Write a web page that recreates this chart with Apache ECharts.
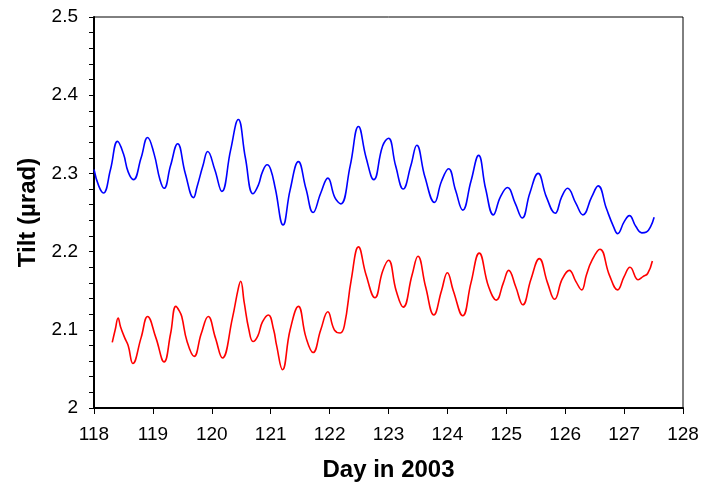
<!DOCTYPE html>
<html>
<head>
<meta charset="utf-8">
<script src="https://cdn.jsdelivr.net/npm/echarts@6/dist/echarts.min.js"></script>
<style>html,body{margin:0;padding:0;background:#fff}#c{width:713px;height:483px}</style>
</head>
<body>
<div id="c"></div>
<script>
var xTicks = [118,119,120,121,122,123,124,125,126,127,128];
var yTicks = [2,2.1,2.2,2.3,2.4,2.5];
var blueX = [118.00,118.08,118.16,118.28,118.40,118.50,118.58,118.67,118.80,118.91,119.02,119.12,119.19,119.30,119.42,119.55,119.69,119.75,119.85,119.93,120.05,120.17,120.32,120.45,120.57,120.70,120.79,120.86,120.94,121.00,121.08,121.21,121.33,121.47,121.60,121.72,121.85,121.97,122.09,122.19,122.35,122.49,122.62,122.75,122.90,123.00,123.12,123.25,123.38,123.48,123.62,123.78,123.90,124.02,124.14,124.26,124.40,124.53,124.65,124.78,124.90,125.02,125.15,125.27,125.40,125.54,125.68,125.83,125.94,126.04,126.18,126.30,126.45,126.56,126.70,126.82,126.89,127.00,127.09,127.20,127.30,127.38,127.45,127.51];
var blueY = [2.305,2.284,2.275,2.305,2.341,2.325,2.302,2.292,2.320,2.346,2.325,2.292,2.281,2.310,2.338,2.300,2.269,2.283,2.310,2.328,2.305,2.277,2.330,2.369,2.320,2.274,2.285,2.302,2.311,2.305,2.280,2.234,2.279,2.315,2.280,2.250,2.275,2.294,2.269,2.261,2.310,2.360,2.320,2.292,2.335,2.345,2.310,2.280,2.310,2.336,2.295,2.263,2.290,2.306,2.278,2.253,2.290,2.323,2.280,2.247,2.270,2.282,2.262,2.243,2.275,2.300,2.270,2.249,2.270,2.281,2.262,2.247,2.270,2.284,2.255,2.232,2.223,2.238,2.246,2.232,2.224,2.225,2.232,2.244];
var redX = [118.31,118.36,118.41,118.45,118.52,118.58,118.66,118.80,118.91,119.05,119.19,119.30,119.39,119.45,119.49,119.58,119.70,119.82,119.94,120.06,120.18,120.35,120.45,120.49,120.55,120.63,120.70,120.78,120.86,120.96,121.05,121.10,121.20,121.33,121.47,121.60,121.72,121.85,121.97,122.08,122.18,122.25,122.37,122.49,122.62,122.77,122.90,123.00,123.13,123.25,123.40,123.50,123.63,123.77,123.90,124.00,124.10,124.26,124.40,124.54,124.70,124.83,124.95,125.04,125.16,125.28,125.42,125.56,125.70,125.82,125.95,126.07,126.18,126.28,126.36,126.45,126.59,126.75,126.89,127.00,127.10,127.24,127.32,127.40,127.48];
var redY = [2.084,2.100,2.115,2.104,2.090,2.080,2.057,2.090,2.117,2.090,2.059,2.095,2.130,2.124,2.117,2.085,2.066,2.095,2.117,2.090,2.064,2.115,2.153,2.162,2.135,2.100,2.085,2.092,2.110,2.119,2.100,2.080,2.049,2.100,2.130,2.090,2.071,2.100,2.123,2.100,2.096,2.105,2.165,2.206,2.170,2.141,2.175,2.189,2.150,2.129,2.170,2.194,2.155,2.119,2.150,2.173,2.150,2.118,2.160,2.198,2.155,2.138,2.160,2.176,2.155,2.132,2.165,2.191,2.160,2.139,2.165,2.176,2.162,2.151,2.170,2.188,2.203,2.170,2.151,2.168,2.180,2.164,2.168,2.172,2.188];

function pairs(xs, ys){ return xs.map(function(x,i){ return [x, ys[i]]; }); }

var chart = echarts.init(document.getElementById('c'));
chart.setOption({
  animation: false,
  grid: {left: 94, right: 30, top: 17, bottom: 75, outerBoundsMode: 'none', containLabel: false, show: true, borderColor: '#000', borderWidth: 1, backgroundColor: 'transparent'},
  xAxis: {
    type: 'value', min: xTicks[0], max: xTicks[xTicks.length-1], interval: 1,
    name: 'Day in 2003', nameLocation: 'middle', nameGap: 50,
    nameTextStyle: {fontFamily: 'Liberation Sans', fontWeight: 'bold', fontSize: 24, color: '#000'},
    axisLine: {show: true, lineStyle: {color: '#000', width: 2}},
    axisTick: {show: true, length: 6, lineStyle: {color: '#000', width: 1}},
    axisLabel: {margin: 17, fontFamily: 'Liberation Sans', fontSize: 19, color: '#000'},
    splitLine: {show: false}
  },
  yAxis: {
    type: 'value', min: yTicks[0], max: yTicks[yTicks.length-1], interval: 0.1,
    name: 'Tilt (µrad)', nameLocation: 'middle', nameGap: 47,
    nameTextStyle: {fontFamily: 'Liberation Sans', fontWeight: 'bold', fontSize: 24, color: '#000'},
    axisLine: {show: true, lineStyle: {color: '#000', width: 2}},
    axisTick: {show: true, length: 5, lineStyle: {color: '#000', width: 1}},
    minorTick: {show: true, splitNumber: 5, length: 5, lineStyle: {color: '#000', width: 1}},
    axisLabel: {margin: 16, fontFamily: 'Liberation Sans', fontSize: 19, color: '#000'},
    splitLine: {show: false}
  },
  series: [
    {type: 'line', data: pairs(blueX, blueY), showSymbol: false, smooth: 0.45, lineStyle: {color: '#0000ff', width: 1.6}},
    {type: 'line', data: pairs(redX, redY), showSymbol: false, smooth: 0.45, lineStyle: {color: '#ff0000', width: 1.6}}
  ]
});
</script>
</body>
</html>
